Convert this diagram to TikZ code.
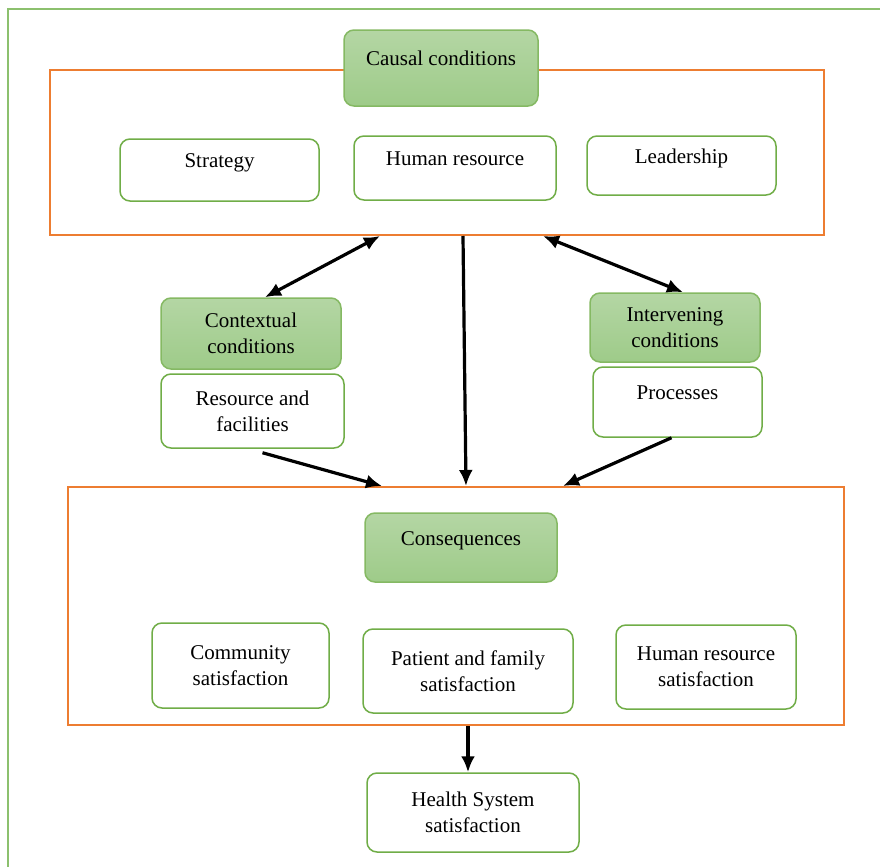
\documentclass[tikz,border=0pt]{standalone}
\usepackage{fontspec}
\setmainfont{Liberation Serif}
\usetikzlibrary{arrows,arrows.meta,calc}
\tikzset{>={Latex[length=8pt,width=7pt]}}
\definecolor{frameg}{HTML}{8CC06E}
\definecolor{boxg}{HTML}{70AD47}
\definecolor{gtop}{HTML}{B4D6A4}
\definecolor{gbot}{HTML}{9ECB89}
\definecolor{orng}{HTML}{ED7D31}
\tikzset{
  box/.style={draw=boxg,line width=0.75pt,rounded corners=5pt,fill=white,
    align=center,inner sep=2pt,font=\fontsize{10.5}{13}\selectfont},
  head/.style={box,draw=boxg!85,top color=gtop,bottom color=gbot},
  lift/.style={text height=7.5pt,text depth=10pt},
  group/.style={draw=orng,line width=1pt},
  flow/.style={->,line width=1.6pt},
  both/.style={<->,line width=1.6pt}
}
\begin{document}
\begin{tikzpicture}[x=0.5pt,y=-0.5pt]
    \useasboundingbox (0,0) rectangle (880,867);
    \draw[frameg,line width=1pt] (8,867) -- (8,9) -- (880,9);
    % two groups
    \node[group,minimum width=387pt,minimum height=82.5pt] (top) at (437,152.5) {};
    \node[group,minimum width=388pt,minimum height=119pt] (bot) at (456,606) {};
    % causal conditions
    \node[head,lift,minimum width=97pt,minimum height=38pt] (causal) at (441,68) {Causal conditions};
    \node[box,lift,minimum width=99.5pt,minimum height=31pt] (strat) at (219.5,170) {Strategy};
    \node[box,lift,minimum width=101pt,minimum height=32pt] (hr) at (455,168) {Human resource};
    \node[box,lift,minimum width=94.5pt,minimum height=29.5pt] (lead) at (681.5,165.5) {Leadership};
    % contextual and intervening
    \node[head,minimum width=90pt,minimum height=35.5pt] (ctx) at (251,333.5) {Contextual\\conditions};
    \node[box,minimum width=91.5pt,minimum height=37pt] (res) at (252.5,411) {Resource and\\facilities};
    \node[head,minimum width=85pt,minimum height=34.5pt] (intv) at (675,327.5) {Intervening\\conditions};
    \node[box,lift,minimum width=84.5pt,minimum height=35pt] (proc) at (677.5,402) {Processes};
    % consequences
    \node[head,lift,minimum width=96pt,minimum height=34.5pt] (cons) at (461,547.5) {Consequences};
    \node[box,minimum width=88.5pt,minimum height=42.5pt] (comm) at (240.5,665.5) {Community\\satisfaction};
    \node[box,minimum width=105pt,minimum height=42pt] (pat) at (468,671) {Patient and family\\satisfaction};
    \node[box,minimum width=90pt,minimum height=42pt] (hrsat) at (706,667) {Human resource\\satisfaction};
    \node[box,minimum width=106pt,minimum height=39.5pt] (health) at (473,812.5) {Health System\\satisfaction};
    % connectors
    \draw[both] ([xshift=-28.5pt]top.south) -- ([xshift=7pt]ctx.north);
    \draw[both] ([xshift=53pt]top.south) -- ([xshift=4pt]intv.north);
    \draw[flow] ([xshift=13pt]top.south) -- ([xshift=5pt]bot.north);
    \draw[flow] ([xshift=5pt,yshift=-2pt]res.south) -- ([xshift=-37pt]bot.north);
    \draw[flow] ([xshift=-3pt]proc.south) -- ([xshift=53.5pt]bot.north);
    \draw[flow] ([xshift=6pt]bot.south) -- ([xshift=-2.5pt]health.north);
  \end{tikzpicture}
\end{document}
